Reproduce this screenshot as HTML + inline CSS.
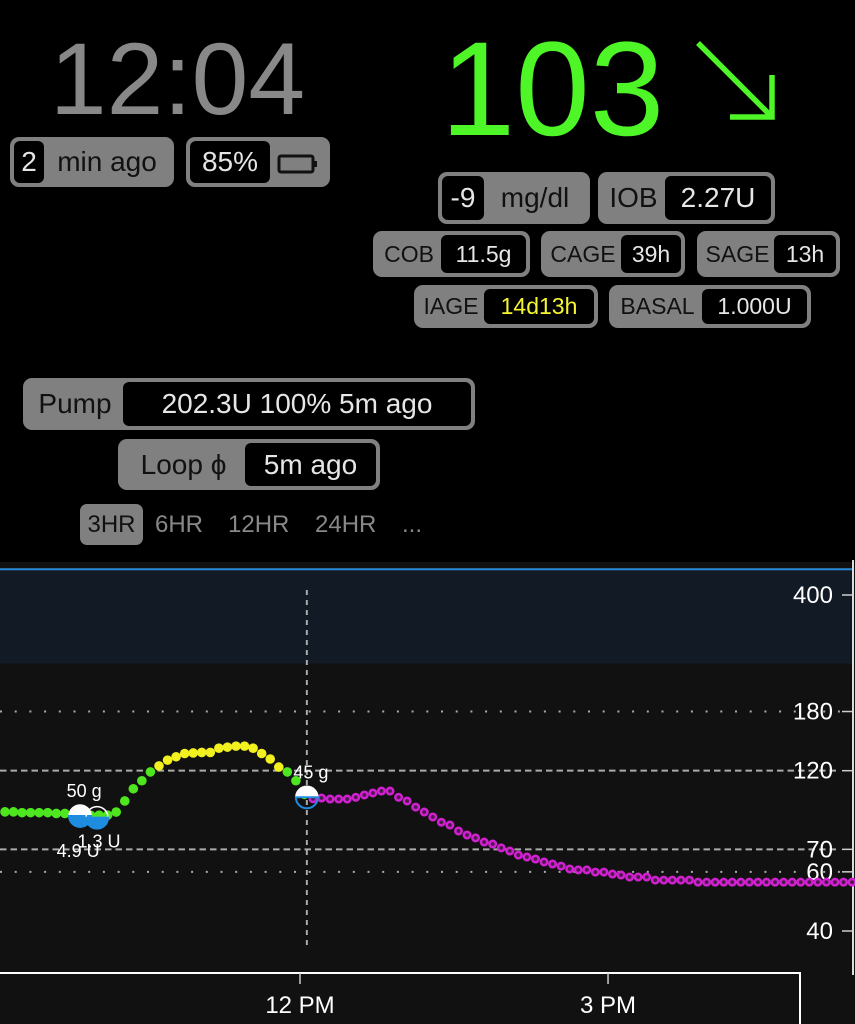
<!DOCTYPE html>
<html><head><meta charset="utf-8"><style>
html,body{margin:0;padding:0;background:#000;width:855px;height:1024px;overflow:hidden;font-family:"Liberation Sans",sans-serif;}
.abs{position:absolute;}
.pill{position:absolute;background:#808080;border-radius:9px;display:flex;align-items:center;box-sizing:border-box;padding:4px;color:#111;white-space:nowrap;}
.pill .in{background:#000;color:#e6e6e6;border-radius:6px;height:100%;display:flex;align-items:center;justify-content:center;box-sizing:border-box;}
.pill .lb{flex:1;text-align:center;}
</style></head><body>
<div class="abs" style="left:40px;top:24px;width:275px;text-align:center;font-size:102px;color:#888;line-height:110px;">12:04</div>
<div class="abs" style="left:425px;top:20px;width:255px;text-align:center;font-size:134px;color:#4ef527;line-height:140px;">103</div>
<svg class="abs" style="left:690px;top:35px" width="95" height="95"><line x1="8" y1="8" x2="82" y2="82" stroke="#4ef527" stroke-width="5.5"/><polyline points="40,82 82,82 82,40" fill="none" stroke="#4ef527" stroke-width="5.5"/></svg>

<div class="pill" style="left:10px;top:137px;width:164px;height:50px;font-size:28px;"><span class="in" style="width:30px">2</span><span class="lb">min ago</span></div>
<div class="pill" style="left:186px;top:137px;width:144px;height:50px;font-size:28px;"><span class="in" style="width:80px">85%</span><span class="lb"><svg width="42" height="22" style="vertical-align:middle"><rect x="2" y="3" width="34" height="16" rx="2" fill="none" stroke="#111" stroke-width="3"/><rect x="37" y="8" width="3" height="6" fill="#111"/></svg></span></div>

<div class="pill" style="left:438px;top:172px;width:152px;height:52px;font-size:28px;"><span class="in" style="width:42px">-9</span><span class="lb">mg/dl</span></div>
<div class="pill" style="left:598px;top:172px;width:177px;height:52px;font-size:28px;"><span class="lb">IOB</span><span class="in" style="width:106px">2.27U</span></div>

<div class="pill" style="left:373px;top:231px;width:157px;height:46px;font-size:23px;"><span class="lb">COB</span><span class="in" style="width:85px">11.5g</span></div>
<div class="pill" style="left:541px;top:231px;width:144px;height:46px;font-size:23px;"><span class="lb">CAGE</span><span class="in" style="width:60px">39h</span></div>
<div class="pill" style="left:697px;top:231px;width:143px;height:46px;font-size:23px;"><span class="lb">SAGE</span><span class="in" style="width:62px">13h</span></div>

<div class="pill" style="left:414px;top:285px;width:184px;height:43px;font-size:23px;"><span class="lb">IAGE</span><span class="in" style="width:110px;color:#f5f532">14d13h</span></div>
<div class="pill" style="left:609px;top:285px;width:202px;height:43px;font-size:23px;"><span class="lb">BASAL</span><span class="in" style="width:105px">1.000U</span></div>

<div class="pill" style="left:23px;top:378px;width:452px;height:52px;font-size:28px;"><span class="lb">Pump</span><span class="in" style="width:348px">202.3U 100% 5m ago</span></div>
<div class="pill" style="left:118px;top:439px;width:262px;height:51px;font-size:28px;"><span class="lb">Loop ϕ</span><span class="in" style="width:131px">5m ago</span></div>

<div class="abs" style="left:80px;top:504px;width:63px;height:41px;background:#808080;border-radius:7px;color:#111;font-size:24px;line-height:41px;text-align:center;">3HR</div>
<div class="abs" style="left:155px;top:504px;font-size:24px;line-height:41px;color:#888;">6HR</div>
<div class="abs" style="left:228px;top:504px;font-size:24px;line-height:41px;color:#888;">12HR</div>
<div class="abs" style="left:315px;top:504px;font-size:24px;line-height:41px;color:#888;">24HR</div>
<div class="abs" style="left:402px;top:504px;font-size:24px;line-height:41px;color:#888;">...</div>

<svg id="chart" class="abs" style="left:0;top:0" width="855" height="1024" font-family="Liberation Sans, sans-serif"></svg>
<script>
const yTicks=[400,180,120,70,60,40];
const gridDotted=[180,60];
const gridDashed=[120,70];
const xTickLabels=['12 PM','3 PM'];
const xTickMinutes=[0,180];
const bgStartMin=-172.4;
const bgValues=[90.5,90.5,90,90,90,90,89.5,89.5,89,89,88.5,88.5,88.5,90.4,97.5,106,112,119,124,129,132,135,135.5,136,136,140,141,142,142,140,135,130,123,119,112,102];
const predStartMin=7.6;
const predValues=[99,99.5,98.8,98.8,98.8,100,101.6,103,104.4,104.4,100,97.5,93.5,90.4,87.4,84.3,82.7,79.4,77.2,75.7,73.6,72.6,70.7,69.2,67.3,66.4,65.5,64.2,63.3,62.4,61.2,60.8,60.8,59.9,59.9,59.1,58.7,57.9,57.9,57.9,56.7,56.7,56.7,56.7,56.7,55.9,55.9,55.9,55.9,55.9,55.9,55.9,55.9,55.9,55.9,55.9,55.9,55.9,55.9,55.9,55.9,55.9,55.9,55.9];
const treatMin=[-128.5,-118.6,4];
const treatBg=[88,87,100];
const treatLabels=[['50 g','4.9 U'],['','1.3 U'],['45 g','']];
const highLine=477, highBand=250;
const nowMin=4;
const NS='http://www.w3.org/2000/svg';
const svg=document.getElementById('chart');
const X=m=>300+m*1.7113;
const Y=v=>931-336*Math.log10(v/40);
function mk(t,a,p){const e=document.createElementNS(NS,t);for(const k in a)e.setAttribute(k,a[k]);(p||svg).appendChild(e);return e;}
let e;
e=mk('rect',{x:0,y:562,width:855,height:462,fill:'#111'});

e=mk('rect',{x:0,y:Y(highLine),width:853,height:Y(highBand)-Y(highLine),fill:'#121b25'});

e=mk('line',{x1:0,x2:853,y1:Y(highLine),y2:Y(highLine),stroke:'#2a8ad8','stroke-width':2});

gridDotted.forEach(v=>{e=mk('line',{x1:0,x2:840,y1:Y(v),y2:Y(v),stroke:'#aaa','stroke-width':2,'stroke-dasharray':'2 12.7'});
});
gridDashed.forEach(v=>{e=mk('line',{x1:0,x2:840,y1:Y(v),y2:Y(v),stroke:'#aaa','stroke-width':2,'stroke-dasharray':'6.5 4'});
});
e=mk('line',{x1:X(nowMin),x2:X(nowMin),y1:590,y2:946,stroke:'#aaa','stroke-width':2,'stroke-dasharray':'5 5'});

yTicks.forEach(v=>{
 e=mk('text',{x:833,y:Y(v)+8,'text-anchor':'end','font-size':24,fill:'#fff'});e.textContent=v;
 
 e=mk('line',{x1:842,x2:853,y1:Y(v),y2:Y(v),stroke:'#ccc','stroke-width':1.5});
 
});
e=mk('line',{x1:853,x2:853,y1:560,y2:975,stroke:'#ddd','stroke-width':2});

e=mk('path',{d:'M0 973 H800 V1024',fill:'none',stroke:'#fff','stroke-width':2});

xTickMinutes.forEach((m,i)=>{
 e=mk('line',{x1:X(m),x2:X(m),y1:973,y2:984,stroke:'#ccc','stroke-width':1.5});
 
 e=mk('text',{x:X(m),y:1013,'text-anchor':'middle','font-size':24,fill:'#fff'});e.textContent=xTickLabels[i];
 
});
bgValues.forEach((v,i)=>{
 e=mk('circle',{cx:X(bgStartMin+5*i),cy:Y(v),r:4.8,fill:v>120?'#f2f01e':'#4ee61e'});
 
});
predValues.forEach((v,i)=>{
 e=mk('circle',{cx:X(predStartMin+5*i),cy:Y(v),r:3.2,fill:'#4a1a4a',stroke:'#d020d0','stroke-width':2.6});
 
});
treatMin.forEach((m,i)=>{
 const cx=X(m),cy=Y(treatBg[i]),r=11;
 const g=mk('g',{});
 
 const fillTop=i===1?'none':'#fff', fillBot=i===2?'none':'#1e8de0';
 mk('path',{d:`M${cx-r} ${cy} A${r} ${r} 0 0 1 ${cx+r} ${cy} Z`,fill:fillTop,stroke:'#fff','stroke-width':1.5},g);
 mk('path',{d:`M${cx-r} ${cy} A${r} ${r} 0 0 0 ${cx+r} ${cy} Z`,fill:fillBot,stroke:'#1e8de0','stroke-width':2},g);
 const [a,b]=treatLabels[i];
 if(a){e=mk('text',{x:cx+4,y:cy-19,'text-anchor':'middle','font-size':18,fill:'#fff'});e.textContent=a;
  }
 if(b){e=mk('text',{x:cx+(i===0?-2:2),y:cy+(i===0?41:30),'text-anchor':'middle','font-size':18,fill:'#fff'});e.textContent=b;
  }
});
</script>
</body></html>
